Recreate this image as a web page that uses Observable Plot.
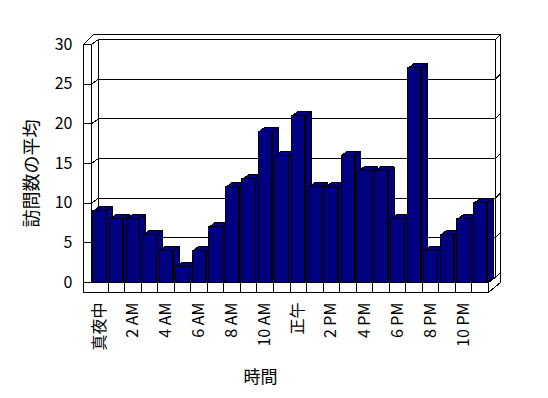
<!DOCTYPE html>
<html><head><meta charset="utf-8">
<script src="https://cdn.jsdelivr.net/npm/d3@7"></script>
<script src="https://cdn.jsdelivr.net/npm/@observablehq/plot@0.6"></script>
<style>html,body{margin:0;padding:0;background:#fff;} svg{display:block}</style>
</head><body><div id="chart"></div>
<script>
// ---- data ----
const hours = [0,1,2,3,4,5,6,7,8,9,10,11,12,13,14,15,16,17,18,19,20,21,22,23];
const visits = [9,8,8,6,4,2,4,7,12,13,19,16,21,12,12,16,14,14,8,27,4,6,8,10];
const tickHours = [0,2,4,6,8,10,12,14,16,18,20,22];
const tickLabels = ["真夜中","2 AM","4 AM","6 AM","8 AM","10 AM","正午","2 PM","4 PM","6 PM","8 PM","10 PM"];
const yTicks = [0,5,10,15,20,25,30];
const yTitle = "訪問数の平均";
const xTitle = "時間";

// ---- pseudo-3D geometry (in data units) ----
const N = hours.length, YMAX = 30;
const DX = 0.42, DY = 0.63;   // depth: front plane -> back wall
const TX = 0.30, TY = 0.63;   // back wall thickness
const W = 0.48;               // left wall thickness
const FH = 1.26;              // floor thickness
const BX = 0.36, BY = 0.57;   // bar depth
const BL = 0.12, BR = 0.93;   // bar front face within category

const bars = hours.map((h, i) => ({h, v: visits[i], x1: h + BL, x2: h + BR}));

function poly(id, pts) { return pts.map(([x, y]) => ({id, x, y})); }

const sides = bars.flatMap(b => poly("s" + b.h, [[b.x2,0],[b.x2+BX,BY],[b.x2+BX,b.v+BY],[b.x2,b.v],[b.x2,0]]));
const tops = bars.flatMap(b => poly("t" + b.h, [[b.x1,b.v],[b.x2,b.v],[b.x2+BX,b.v+BY],[b.x1+BX,b.v+BY],[b.x1,b.v]]));

const frame = [];
frame.push(...poly("wall", [[DX,DY],[N+DX,DY],[N+DX,YMAX+DY],[DX,YMAX+DY],[DX,DY]]));
yTicks.forEach(g => {
  frame.push(...poly("grid" + g, [[DX,g+DY],[N+DX,g+DY]]));
  frame.push(...poly("rd" + g, [[N+DX,g+DY],[N+DX+TX,g+DY+TY]]));
  frame.push(...poly("tick" + g, [[-W,g],[0,g],[DX,g+DY]]));
});
frame.push(...poly("outer", [[-W,YMAX],[0.12,YMAX+DY+TY],[N+DX+TX,YMAX+DY+TY],[N+DX+TX,-FH+DY+TY],[N,-FH],[-W,-FH],[-W,YMAX]]));
frame.push(...poly("inner", [[0,0],[0,YMAX]]));
frame.push(...poly("floor", [[0,0],[N,0],[N+DX,DY]]));
for (let i = 1; i <= N; i++) frame.push(...poly("div" + i, [[i,-FH],[i,0]]));

const navy = "#000080";
const font = "'Noto Sans CJK JP', 'Noto Sans', sans-serif";

const chart = Plot.plot({
  width: 548, height: 398,
  marginLeft: 91, marginRight: 60, marginTop: 44, marginBottom: 116,
  x: {domain: [0, N], axis: null},
  y: {domain: [0, YMAX], axis: null},
  style: {fontFamily: font, background: "white", color: "black"},
  marks: [
    Plot.line(frame, {x: "x", y: "y", z: "id", stroke: "black", strokeWidth: 1, shapeRendering: "crispEdges"}),
    Plot.line(sides, {x: "x", y: "y", z: "id", fill: navy, stroke: "black", strokeWidth: 1, shapeRendering: "crispEdges"}),
    Plot.line(tops, {x: "x", y: "y", z: "id", fill: navy, stroke: "black", strokeWidth: 1, shapeRendering: "crispEdges"}),
    Plot.rect(bars, {x1: "x1", x2: "x2", y1: 0, y2: "v", fill: navy, stroke: "black", strokeWidth: 1, shapeRendering: "crispEdges"}),
    Plot.text(yTicks, {y: d => d, frameAnchor: "left", dx: -19, textAnchor: "end", lineAnchor: "middle", fontSize: 16, fill: "black"}),
    Plot.text(tickLabels, {x: (d, i) => tickHours[i] + 0.5, frameAnchor: "bottom", dy: 20, rotate: -90, textAnchor: "end", lineAnchor: "middle", fontSize: 16, fill: "black"}),
    Plot.text([yTitle], {frameAnchor: "left", dx: -59, dy: 10, rotate: -90, textAnchor: "middle", lineAnchor: "middle", fontSize: 18, fill: "black"}),
    Plot.text([xTitle], {frameAnchor: "bottom", dx: -29.5, dy: 95, textAnchor: "middle", lineAnchor: "middle", fontSize: 17, fill: "black"})
  ]
});
document.getElementById("chart").appendChild(chart);
</script>
</body></html>
